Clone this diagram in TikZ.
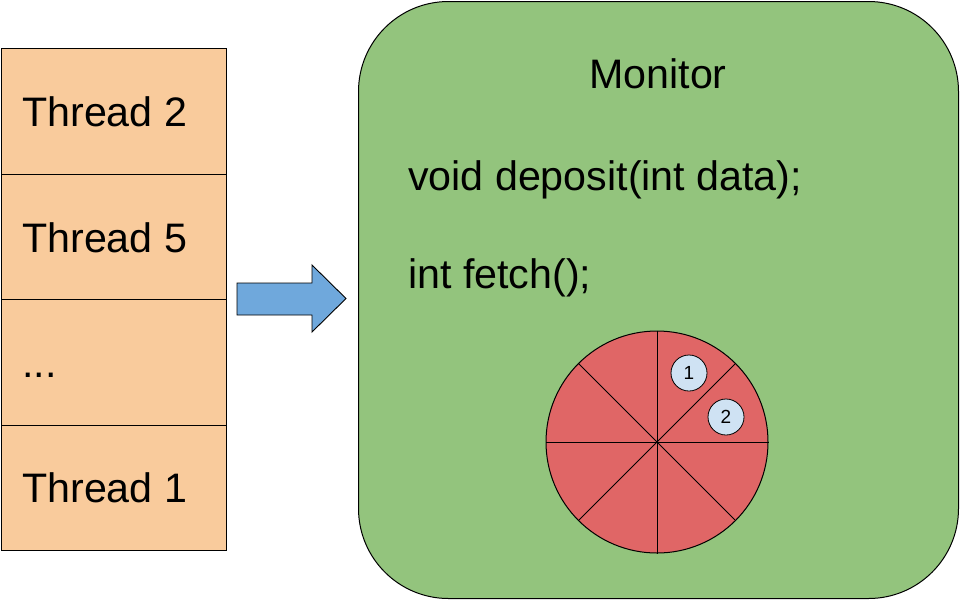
\documentclass[tikz,border=0pt]{standalone}
\usepackage{fontspec}
\setmainfont{Liberation Sans}
\definecolor{threadfill}{HTML}{F9CB9C}
\definecolor{monfill}{HTML}{93C47D}
\definecolor{arrowfill}{HTML}{6FA8DC}
\definecolor{buffill}{HTML}{E06666}
\definecolor{tokfill}{HTML}{CFE2F3}
\begin{document}
\begin{tikzpicture}[x=1pt,y=-1pt,
  big/.style={font=\fontsize{41.2}{48}\selectfont},
  threadbox/.style={draw=black, line width=1pt, fill=threadfill, minimum width=225pt, minimum height=125.5pt, anchor=north west, inner sep=0pt},
  txt/.style={big, anchor=base west, inner sep=0pt},
  token/.style={circle, draw=black, line width=0.8pt, fill=tokfill, minimum size=36pt, inner sep=0pt, font=\fontsize{19}{21}\selectfont},
  divider/.style={draw=black, line width=0.9pt}]
\useasboundingbox (0,0) rectangle (960,600);
% thread stack
\node[threadbox] (t2) at (0.5,48) {};
\node[threadbox] (t5) at (0.5,173.5) {};
\node[threadbox] (tdots) at (0.5,299) {};
\node[threadbox] (t1) at (0.5,424.5) {};
\node[txt] (l2) at (22,126) {Thread 2};
\node[txt] (l5) at (22,252) {Thread 5};
\node[txt] (ld) at (22,377) {...};
\node[txt] (l1) at (22,502) {Thread 1};
% block arrow
\draw[line width=0.9pt, fill=arrowfill, line join=miter]
  (237,283) -- (312,283) -- (312,265) -- (346,298.5) -- (312,332) -- (312,315) -- (237,315) -- cycle;
% monitor
\node[draw=black, line width=1pt, fill=monfill, rounded corners=90pt, minimum width=600pt, minimum height=597pt, anchor=north west, inner sep=0pt] (mon) at (358,1) {};
\node[big, anchor=base, inner sep=0pt] (title) at (658,88) {Monitor};
\node[txt] (dep) at (408,190) {void deposit(int data);};
\node[txt] (fet) at (408,288) {int fetch();};
% buffer
\node[circle, draw=black, line width=1pt, fill=buffill, minimum size=222pt, inner sep=0pt] (buf) at (657,442) {};
\draw[divider] (buf.north) -- (buf.south);
\draw[divider] (buf.east) -- (buf.west);
\draw[divider] (buf.45) -- (buf.225);
\draw[divider] (buf.135) -- (buf.315);
\node[token] (k1) at (689,373) {1};
\node[token] (k2) at (726,417) {2};
\end{tikzpicture}
\end{document}
